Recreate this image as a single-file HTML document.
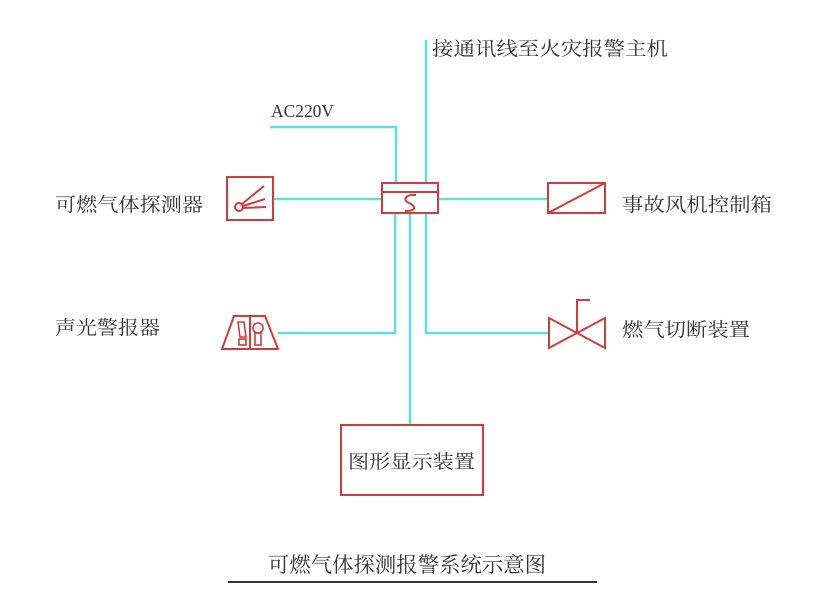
<!DOCTYPE html>
<html><head><meta charset="utf-8"><style>
html,body{margin:0;padding:0;background:#fff;}
svg{display:block;}
text{font-family:"Liberation Serif","Noto Serif CJK SC","Noto Sans CJK SC",serif;fill:#333;}
</style></head><body>
<svg width="831" height="613" viewBox="0 0 831 613" xmlns="http://www.w3.org/2000/svg">
<g stroke="#5fdde0" stroke-width="2.5" fill="none">
<line x1="426" y1="40" x2="426" y2="183"/>
<polyline points="270,127 396,127 396,183"/>
<line x1="273" y1="199" x2="382" y2="199"/>
<line x1="438" y1="199" x2="548" y2="199"/>
<polyline points="395,213 395,333 278,333"/>
<polyline points="426,213 426,333 549,333"/>
<line x1="410" y1="213" x2="410" y2="425"/>
</g>
<g stroke="#d43a3a" stroke-width="2" fill="none">
<rect x="382" y="183" width="56" height="30"/>
<line x1="382" y1="192" x2="438" y2="192"/>
<path d="M416,195 C404,194 403,201 409,203 C416,206 417,211 405,211"/>
<rect x="227" y="177" width="46" height="43"/>
<circle cx="239" cy="207" r="4"/>
<line x1="242" y1="204" x2="264" y2="186"/>
<line x1="243" y1="206" x2="265" y2="199"/>
<line x1="243" y1="208" x2="266" y2="207"/>
<rect x="548" y="183" width="57" height="30"/>
<line x1="548" y1="213" x2="605" y2="183"/>
<polygon points="234,316 265,316 278,349 222,349"/>
<line x1="250" y1="316" x2="250" y2="349"/>
<path d="M238,322 L244,322 L246,337 L240,337 Z" stroke-width="1.6"/>
<rect x="239" y="339" width="7" height="6" stroke-width="1.6"/>
<circle cx="258" cy="328" r="5" stroke-width="1.6"/>
<rect x="255" y="333" width="6" height="12" stroke-width="1.6"/>
<polygon points="549,318 549,348 605,318 605,348"/>
<polyline points="577,333 577,300 590,300"/>
<rect x="341" y="425" width="142" height="70"/>
</g>
<text x="432" y="55" font-size="19" textLength="236" lengthAdjust="spacingAndGlyphs">接通讯线至火灾报警主机</text>
<text x="271" y="117" font-size="18" textLength="63" lengthAdjust="spacingAndGlyphs">AC220V</text>
<text x="55" y="211" font-size="19" textLength="148" lengthAdjust="spacingAndGlyphs">可燃气体探测器</text>
<text x="622" y="211" font-size="19" textLength="150" lengthAdjust="spacingAndGlyphs">事故风机控制箱</text>
<text x="55" y="334" font-size="19" textLength="105" lengthAdjust="spacingAndGlyphs">声光警报器</text>
<text x="622" y="336" font-size="19" textLength="128" lengthAdjust="spacingAndGlyphs">燃气切断装置</text>
<text x="348" y="468" font-size="19" textLength="127" lengthAdjust="spacingAndGlyphs">图形显示装置</text>
<text x="268" y="572" font-size="21" textLength="278" lengthAdjust="spacingAndGlyphs">可燃气体探测报警系统示意图</text>
<line x1="228" y1="582" x2="597" y2="582" stroke="#333" stroke-width="2"/>
</svg>
</body></html>
